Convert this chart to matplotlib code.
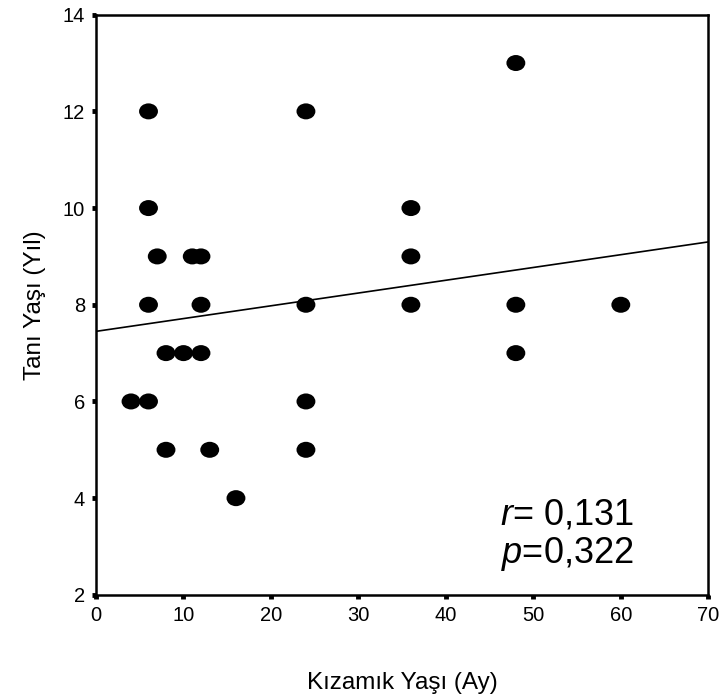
import matplotlib.pyplot as plt
import numpy as np
from matplotlib.path import Path

plt.rcParams["font.family"] = ["Liberation Sans", "DejaVu Sans"]
plt.rcParams["mathtext.fontset"] = "custom"
plt.rcParams["mathtext.it"] = "Liberation Sans:italic"
plt.rcParams["mathtext.rm"] = "Liberation Sans"

# measles age (months) vs diagnosis age (years)
measles_age = [4, 6, 6, 6, 6, 7, 8, 8, 10, 11, 12, 12, 12, 13, 16,
               24, 24, 24, 24, 36, 36, 36, 48, 48, 48, 60]
diag_age = [6, 6, 12, 10, 8, 9, 7, 5, 7, 9, 9, 8, 7, 5, 4,
            12, 8, 6, 5, 10, 9, 8, 13, 8, 7, 8]

fit_x = [0, 70]
fit_y = [7.45, 9.3]

x_ticks = [0, 10, 20, 30, 40, 50, 60, 70]
y_ticks = [2, 4, 6, 8, 10, 12, 14]


def ellipse_marker(wx=1.18, hy=1.0):
    circ = Path.unit_circle()
    verts = circ.vertices * np.array([wx, hy])
    return Path(verts, circ.codes)


def main():
    fig = plt.figure(figsize=(7.22, 6.99), dpi=100)
    ax = fig.add_axes([0.133, 0.149, 0.848, 0.830])

    ax.scatter(measles_age, diag_age, marker=ellipse_marker(), s=185,
               color="black", edgecolors="none", zorder=3)
    ax.plot(fit_x, fit_y, color="black", linewidth=1.2, zorder=2)

    ax.set_xlim(0, 70)
    ax.set_ylim(2, 14)
    ax.set_xticks(x_ticks)
    ax.set_yticks(y_ticks)
    ax.tick_params(direction="out", length=3, width=3.5, labelsize=14.5,
                   pad=5, color="black")
    for sp in ax.spines.values():
        sp.set_linewidth(1.8)

    ax.set_xlabel("Kızamık Yaşı (Ay)", fontsize=17.5, labelpad=34)
    ax.set_ylabel("Tanı Yaşı (Yıl)", fontsize=17.5, labelpad=12)

    ax.text(61.5, 3.65, r"$\it{r}$= 0,131", fontsize=26, ha="right", va="center")
    ax.text(61.5, 2.85, r"$\it{p}$=0,322", fontsize=26, ha="right", va="center")

    fig.savefig("out.png", dpi=100)


if __name__ == "__main__":
    main()
